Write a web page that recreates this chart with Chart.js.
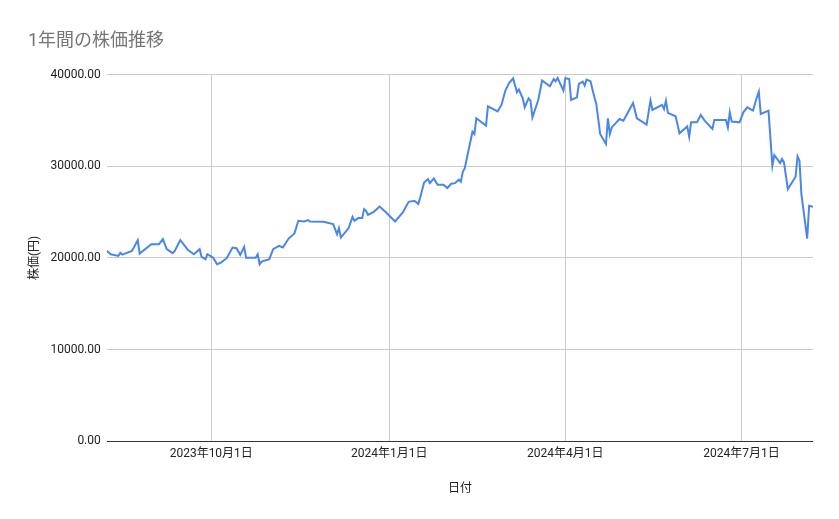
<!DOCTYPE html>
<html>
<head>
<meta charset="utf-8">
<script src="https://cdn.jsdelivr.net/npm/chart.js@4"></script>
<style>
  html, body { margin: 0; padding: 0; background: #fff; }
  #wrap { width: 839px; height: 519px; }
</style>
</head>
<body>
<div id="wrap"><canvas id="stockChart"></canvas></div>
<script>
// ===================================
// Data (days counted from 2023-08-08)
// ===================================
const startDate = new Date(2023, 7, 8);
const days = [0, 2, 6, 7, 8, 13, 14, 16, 17, 23, 27, 29, 31, 34, 35, 38, 42, 45, 48, 49,
  51, 52, 55, 57, 59, 62, 65, 67, 69, 71, 72, 77, 78, 79, 80, 84, 86, 89, 91, 94,
  97, 99, 102, 104, 105, 112, 117, 119, 120, 121, 125, 127, 128, 130, 132, 133, 134, 135, 138, 141,
  144, 149, 153, 156, 159, 161, 162, 164, 166, 167, 169, 171, 174, 176, 178, 180, 182, 183, 184, 185,
  189, 190, 191, 196, 197, 202, 204, 206, 208, 210, 212, 213, 215, 216, 218, 219, 220, 223, 225, 229,
  231, 232, 233, 236, 237, 239, 240, 243, 244, 246, 247, 248, 250, 252, 253, 255, 258, 259, 260, 261,
  265, 267, 272, 274, 279, 281, 282, 287, 288, 289, 290, 294, 296, 300, 301, 302, 305, 307, 309, 313,
  314, 320, 321, 322, 323, 327, 329, 331, 334, 336, 337, 338, 342, 344, 345, 348, 349, 350, 352, 356,
  357, 358, 359, 362, 363, 365];
const prices = [20770, 20400, 20220, 20550, 20360, 20770, 21130, 21940, 20470, 21500, 21500, 22050, 20950, 20520, 20700, 21940, 20850, 20400, 20950, 20110,
  19860, 20400, 20030, 19310, 19490, 19970, 21130, 21060, 20330, 21200, 20030, 20030, 20400, 19310, 19600, 19860, 20950, 21310, 21130, 22110,
  22660, 24050, 23970, 24120, 23970, 23940, 23690, 22590, 23250, 22220, 23250, 24480, 24050, 24340, 24340, 25330, 25140, 24700, 25030, 25610,
  25030, 23970, 24960, 26120, 26230, 25870, 26590, 28230, 28600, 28160, 28670, 27980, 27980, 27620, 28090, 28160, 28530, 28310, 29400, 29760,
  33770, 33520, 35230, 34430, 36540, 35990, 36690, 38260, 39100, 39600, 38070, 38370, 37410, 36430, 37410, 37160, 35340, 37230, 39350, 38730,
  39520, 39270, 39640, 38260, 39600, 39520, 37230, 37520, 38990, 39240, 38800, 39460, 39270, 37520, 36800, 33520, 32430, 35230, 33520, 34240,
  35160, 34980, 36910, 35230, 34540, 37160, 36140, 36690, 36250, 37160, 35820, 35450, 33590, 34350, 33230, 34790, 34790, 35590, 34980, 34070,
  35050, 35050, 34240, 35880, 34870, 34790, 35880, 36430, 36070, 37520, 38150, 35700, 36070, 30060, 31230, 30350, 30790, 30420, 27510, 28860,
  31080, 30610, 26960, 22110, 25690, 25580];
const xTickDays = [54, 146, 237, 328]; // 2023/10/1, 2024/1/1, 2024/4/1, 2024/7/1
const yTicks = [0, 10000, 20000, 30000, 40000];

// ===================================
// Helpers
// ===================================
function dayLabel(offset) {
  const d = new Date(startDate);
  d.setDate(d.getDate() + Math.round(offset));
  return d.getFullYear() + "年" + (d.getMonth() + 1) + "月" + d.getDate() + "日";
}

Chart.defaults.font.family = "Roboto, 'Noto Sans CJK JP', sans-serif";
Chart.defaults.color = "#222";

// ===================================
// Chart
// ===================================
const ctx = document.getElementById("stockChart").getContext("2d");
new Chart(ctx, {
  type: "line",
  data: {
    datasets: [
      {
        data: days.map((d, i) => ({ x: d, y: prices[i] })),
        borderColor: "#4a86e8",
        borderWidth: 2,
        pointRadius: 0,
        tension: 0,
        fill: false,
      },
    ],
  },
  options: {
    responsive: true,
    maintainAspectRatio: false,
    animation: false,
    layout: { padding: { left: 28, right: 26, bottom: 19 } },
    plugins: {
      legend: { display: false },
      tooltip: { enabled: false },
      title: {
        display: true,
        text: "1年間の株価推移",
        align: "start",
        color: "#757575",
        font: { size: 18, weight: "normal" },
        padding: { top: 31, bottom: 22 },
      },
    },
    scales: {
      x: {
        type: "linear",
        min: 0,
        max: 365,
        afterBuildTicks: (axis) => {
          axis.ticks = xTickDays.map((v) => ({ value: v }));
        },
        ticks: {
          callback: (v) => dayLabel(v),
          maxRotation: 0,
          font: { size: 12 },
          padding: 6,
        },
        grid: { color: "#cccccc", drawTicks: false },
        border: { display: false },
        title: {
          display: true,
          text: "日付",
          font: { size: 12 },
          padding: { top: 14 },
        },
      },
      y: {
        min: 0,
        max: 40000,
        afterBuildTicks: (axis) => {
          axis.ticks = yTicks.map((v) => ({ value: v }));
        },
        ticks: {
          callback: (v) => v.toFixed(2),
          font: { size: 12 },
          padding: 6,
        },
        grid: { color: (c) => (c.tick.value === 0 ? "#333" : "#cccccc"), drawTicks: false },
        border: { display: false },
        title: {
          display: true,
          text: "株価(円)",
          font: { size: 12 },
          padding: { top: 0, bottom: 2 },
        },
      },
    },
  },
});
</script>
</body>
</html>
